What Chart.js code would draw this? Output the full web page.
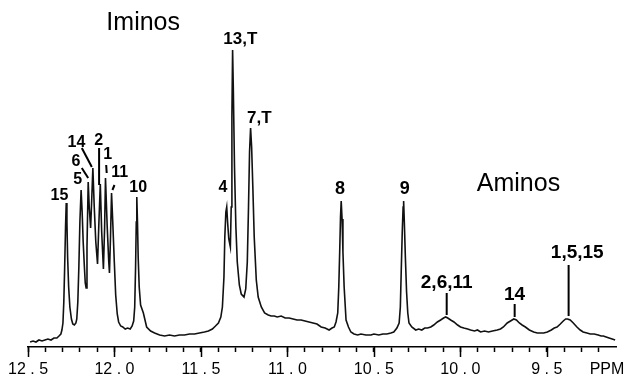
<!DOCTYPE html>
<html>
<head>
<meta charset="utf-8">
<script src="https://cdn.jsdelivr.net/npm/chart.js"></script>
<style>
  body { margin: 0; background: #fff; }
  canvas { display: block; }
</style>
</head>
<body>
<canvas id="nmrChart" width="624" height="378"></canvas>
<script>
// chemical shift (ppm) and signal height
const shiftPpm = [
  12.488, 12.471, 12.454, 12.437, 12.419, 12.402, 12.385, 12.367, 12.350, 12.333,
  12.321, 12.310, 12.304, 12.298, 12.293, 12.288, 12.283, 12.279, 12.275, 12.271,
  12.265, 12.258, 12.249, 12.241, 12.232, 12.223, 12.218, 12.212, 12.206, 12.200,
  12.193, 12.187, 12.181, 12.174, 12.169, 12.164, 12.159, 12.152, 12.146, 12.138,
  12.131, 12.125, 12.117, 12.108, 12.098, 12.091, 12.082, 12.074, 12.064, 12.057,
  12.052, 12.042, 12.033, 12.029, 12.023, 12.017, 12.010, 12.001, 11.993, 11.984,
  11.976, 11.964, 11.952, 11.938, 11.924, 11.909, 11.898, 11.889, 11.883, 11.878,
  11.874, 11.871, 11.867, 11.863, 11.857, 11.849, 11.833, 11.814, 11.791, 11.768,
  11.739, 11.710, 11.682, 11.653, 11.624, 11.595, 11.566, 11.537, 11.509, 11.480,
  11.457, 11.434, 11.416, 11.399, 11.385, 11.376, 11.367, 11.362, 11.356, 11.351,
  11.346, 11.339, 11.330, 11.325, 11.321, 11.317, 11.313, 11.306, 11.298, 11.290,
  11.278, 11.267, 11.251, 11.241, 11.232, 11.225, 11.219, 11.213, 11.207, 11.200,
  11.192, 11.180, 11.169, 11.151, 11.132, 11.111, 11.094, 11.076, 11.059, 11.036,
  11.013, 10.990, 10.967, 10.944, 10.921, 10.898, 10.875, 10.852, 10.829, 10.805,
  10.782, 10.759, 10.742, 10.729, 10.719, 10.709, 10.703, 10.697, 10.693, 10.689,
  10.684, 10.679, 10.672, 10.661, 10.647, 10.633, 10.615, 10.594, 10.575, 10.546,
  10.517, 10.500, 10.471, 10.448, 10.425, 10.402, 10.385, 10.367, 10.354, 10.347,
  10.342, 10.336, 10.331, 10.328, 10.324, 10.318, 10.311, 10.304, 10.297, 10.281,
  10.258, 10.241, 10.223, 10.206, 10.190, 10.171, 10.154, 10.133, 10.114, 10.097,
  10.085, 10.073, 10.056, 10.037, 10.016, 9.999, 9.980, 9.958, 9.941, 9.918,
  9.901, 9.883, 9.860, 9.837, 9.814, 9.787, 9.768, 9.751, 9.729, 9.710,
  9.691, 9.676, 9.659, 9.643, 9.624, 9.601, 9.576, 9.555, 9.538, 9.518,
  9.497, 9.474, 9.457, 9.441, 9.422, 9.405, 9.391, 9.380, 9.365, 9.347,
  9.326, 9.307, 9.290, 9.268, 9.249, 9.226, 9.203, 9.186, 9.173, 9.157,
  9.140, 9.122, 9.105
];
const signal = [
  5, 6, 5, 7, 6, 7, 8, 7, 9, 9,
  11, 13, 17, 24, 45, 80, 120, 144, 125, 90,
  60, 40, 28, 23, 22, 24, 28, 45, 80, 125,
  157, 135, 105, 80, 64, 59, 100, 165, 140, 119,
  150, 179, 140, 105, 83, 120, 163, 115, 78, 120,
  169, 120, 85, 74, 110, 154, 125, 85, 52, 33,
  25, 21, 20, 18, 19, 18, 21, 26, 40, 80,
  125, 150, 125, 90, 60, 42, 34, 20, 16, 14,
  12, 11, 12, 11, 12, 12, 13, 13, 14, 15,
  16, 18, 21, 24, 30, 40, 70, 110, 135, 140,
  125, 108, 100, 140, 230, 297, 260, 180, 120, 85,
  62, 53, 50, 58, 85, 140, 195, 219, 200, 160,
  110, 67, 50, 40, 34, 32, 31, 31, 30, 31,
  29, 29, 28, 27, 27, 26, 25, 24, 23, 20,
  19, 17, 19, 20, 25, 34, 60, 100, 130, 146,
  128, 95, 60, 27, 20, 15, 13, 12, 13, 12,
  12, 13, 12, 13, 13, 14, 15, 19, 24, 40,
  75, 115, 140, 146, 125, 90, 55, 34, 24, 20,
  17, 18, 17, 19, 19, 20, 22, 25, 27, 29,
  30, 29, 27, 25, 22, 20, 19, 18, 17, 16,
  17, 15, 16, 15, 16, 17, 18, 20, 24, 26,
  28, 27, 24, 22, 20, 17, 15, 14, 14, 14,
  15, 17, 19, 20, 23, 26, 28, 28, 27, 24,
  20, 17, 15, 14, 13, 13, 12, 11, 11, 10,
  9, 8, 7
];

const majorTicks = [12.5, 12.0, 11.5, 11.0, 10.5, 10.0, 9.5];

// peak assignments: text, anchor shift, anchor height
const peakNames = ['15', '5', '6', '14', '2', '1', '11', '10', '4', '13,T', '7,T', '8', '9', '2,6,11', '14', '1,5,15'];
const peakNameShift = [12.318, 12.212, 12.223, 12.220, 12.091, 12.039, 11.970, 11.863, 11.373, 11.272, 11.163, 10.696, 10.321, 10.079, 9.687, 9.324];
const peakNameHeight = [151, 167, 185, 204, 206, 192, 174, 159, 159, 308, 229, 158, 158, 64, 52, 94];

// leader lines from label to peak: [shift1, height1, shift2, height2]
const leaders = [
  [12.189, 179, 12.152, 169],
  [12.189, 199, 12.131, 180],
  [12.089, 199, 12.089, 162],
  [12.048, 182, 12.045, 174],
  [12.000, 162, 12.012, 157],
  [10.079, 54, 10.079, 32],
  [9.686, 43, 9.686, 30],
  [9.374, 82, 9.374, 31]
];

const regionNames = ['Iminos', 'Aminos'];
const regionShift = [11.834, 9.664];
const regionHeight = [324, 163];

// label font sizes (styling, kept apart from the data)
const labelSize = [16, 16, 16, 16, 16, 16, 16, 16, 16, 17, 17, 18, 18, 19, 19, 19];

const isMajor = (v) => majorTicks.some(m => Math.abs(m - v) < 1e-6);

const annotations = {
  id: 'annotations',
  afterDraw(chart) {
    const { ctx } = chart;
    const xs = chart.scales.x;
    const ys = chart.scales.y;
    ctx.save();
    ctx.strokeStyle = '#000';
    ctx.fillStyle = '#000';

    // longer major ticks
    ctx.lineWidth = 1.5;
    majorTicks.forEach(v => {
      const px = Math.round(xs.getPixelForValue(v)) + 0.5;
      ctx.beginPath();
      ctx.moveTo(px, xs.top);
      ctx.lineTo(px, xs.top + 10);
      ctx.stroke();
    });

    ctx.textAlign = 'center';
    ctx.textBaseline = 'middle';
    peakNames.forEach((t, i) => {
      ctx.font = `bold ${labelSize[i]}px "Liberation Sans", Arial, sans-serif`;
      ctx.fillText(t, xs.getPixelForValue(peakNameShift[i]), ys.getPixelForValue(peakNameHeight[i]));
    });

    ctx.lineWidth = 2;
    leaders.forEach(l => {
      ctx.beginPath();
      ctx.moveTo(xs.getPixelForValue(l[0]), ys.getPixelForValue(l[1]));
      ctx.lineTo(xs.getPixelForValue(l[2]), ys.getPixelForValue(l[3]));
      ctx.stroke();
    });

    ctx.font = '25px "Liberation Sans", Arial, sans-serif';
    regionNames.forEach((t, i) => {
      ctx.fillText(t, xs.getPixelForValue(regionShift[i]), ys.getPixelForValue(regionHeight[i]));
    });

    // axis unit at the right end
    ctx.font = '16px "Liberation Sans", Arial, sans-serif';
    ctx.fillText('PPM', 607, 370);
    ctx.restore();
  }
};

new Chart(document.getElementById('nmrChart'), {
  type: 'line',
  data: {
    datasets: [{
      data: shiftPpm.map((p, i) => ({ x: p, y: signal[i] })),
      borderColor: '#111',
      borderWidth: 1.6,
      pointRadius: 0,
      tension: 0,
      fill: false
    }]
  },
  options: {
    responsive: false,
    animation: false,
    devicePixelRatio: 1,
    layout: { padding: { left: 26, right: 8, top: 10, bottom: 0 } },
    plugins: {
      legend: { display: false },
      tooltip: { enabled: false }
    },
    scales: {
      x: {
        type: 'linear',
        reverse: true,
        min: 9.1,
        max: 12.5,
        afterBuildTicks: (scale) => {
          const ticks = [];
          for (let i = 125; i >= 92; i--) ticks.push({ value: i / 10 });
          scale.ticks = ticks;
        },
        afterFit: (scale) => { scale.height = 31; },
        border: { display: true, color: '#000', width: 1.5 },
        grid: {
          drawOnChartArea: false,
          drawTicks: true,
          tickLength: 5,
          tickColor: '#000',
          tickWidth: 1.5
        },
        ticks: {
          autoSkip: false,
          maxRotation: 0,
          padding: 8,
          color: '#000',
          font: { family: '"Liberation Sans", Arial, sans-serif', size: 16 },
          callback: (v) => isMajor(v) ? Number(v).toFixed(1).replace('.', ' . ') : ''
        }
      },
      y: {
        display: false,
        min: 0,
        max: 337
      }
    }
  },
  plugins: [annotations]
});
</script>
</body>
</html>
